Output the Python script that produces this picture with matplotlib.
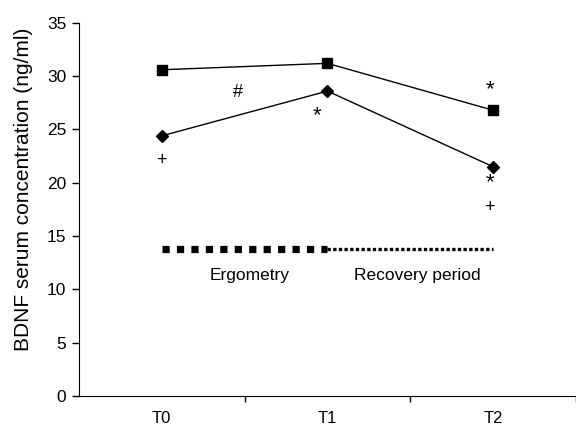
import numpy as np
import matplotlib.pyplot as plt

plt.rcParams['font.family'] = ['Liberation Sans', 'DejaVu Sans']

times = ['T0', 'T1', 'T2']
squares = [30.6, 31.2, 26.8]
diamonds = [24.4, 28.6, 21.5]

# phase bar under the curves
bar_level = 13.8
phases = ['Ergometry', 'Recovery period']
phase_label_level = 11.3

# significance marks: (x, y, symbol)
marks = [
	(0.46, 28.5, '#'),
	(0.94, 26.3, '*'),
	(1.98, 28.7, '*'),
	(1.98, 20.0, '*'),
	(1.98, 17.7, '+'),
	(0.0, 22.1, '+'),
]

fig = plt.figure(figsize=(5.76, 4.26), dpi=100)
ax = fig.add_axes([0.137, 0.0704, 0.863, 0.876])

x = np.arange(len(times))
ax.plot(x, squares, color='black', lw=1.0, marker='s', ms=6.5, zorder=3)
ax.plot(x, diamonds, color='black', lw=1.0, marker='D', ms=6.0, zorder=3)

ax.plot([x[0], x[1]], [bar_level, bar_level], color='black', lw=5.2,
	dashes=(1, 1), solid_capstyle='butt', dash_capstyle='butt')
ax.plot([x[1], x[2]], [bar_level, bar_level], color='black', lw=2.4,
	dashes=(1, 0.7), solid_capstyle='butt', dash_capstyle='butt')

ax.text(0.53, phase_label_level, phases[0], ha='center', va='center', fontsize=12.5)
ax.text(1.54, phase_label_level, phases[1], ha='center', va='center', fontsize=12.5)

for mx, my, s in marks:
	if s == '*':
		ax.text(mx, my, s, ha='center', va='center', fontsize=16)
	else:
		ax.text(mx, my, s, ha='center', va='center', fontsize=13)

ax.set_xlim(-0.5, 2.5)
ax.set_ylim(0, 35)
ax.set_yticks(range(0, 36, 5))
ax.set_xticks(x)
ax.set_xticklabels(times)
ax.set_xticks([0.5, 1.5, 2.5], minor=True)
ax.tick_params(axis='x', which='major', length=0, pad=11, labelsize=12)
ax.tick_params(axis='x', which='minor', length=4, width=1, direction='out')
ax.tick_params(axis='y', length=5, width=1, pad=4, labelsize=12.5)
ax.spines['top'].set_visible(False)
ax.spines['right'].set_visible(False)
ax.set_ylabel('BDNF serum concentration (ng/ml)', fontsize=15)
ax.yaxis.set_label_coords(-0.093, 0.555)

fig.savefig('out.png', dpi=100)
